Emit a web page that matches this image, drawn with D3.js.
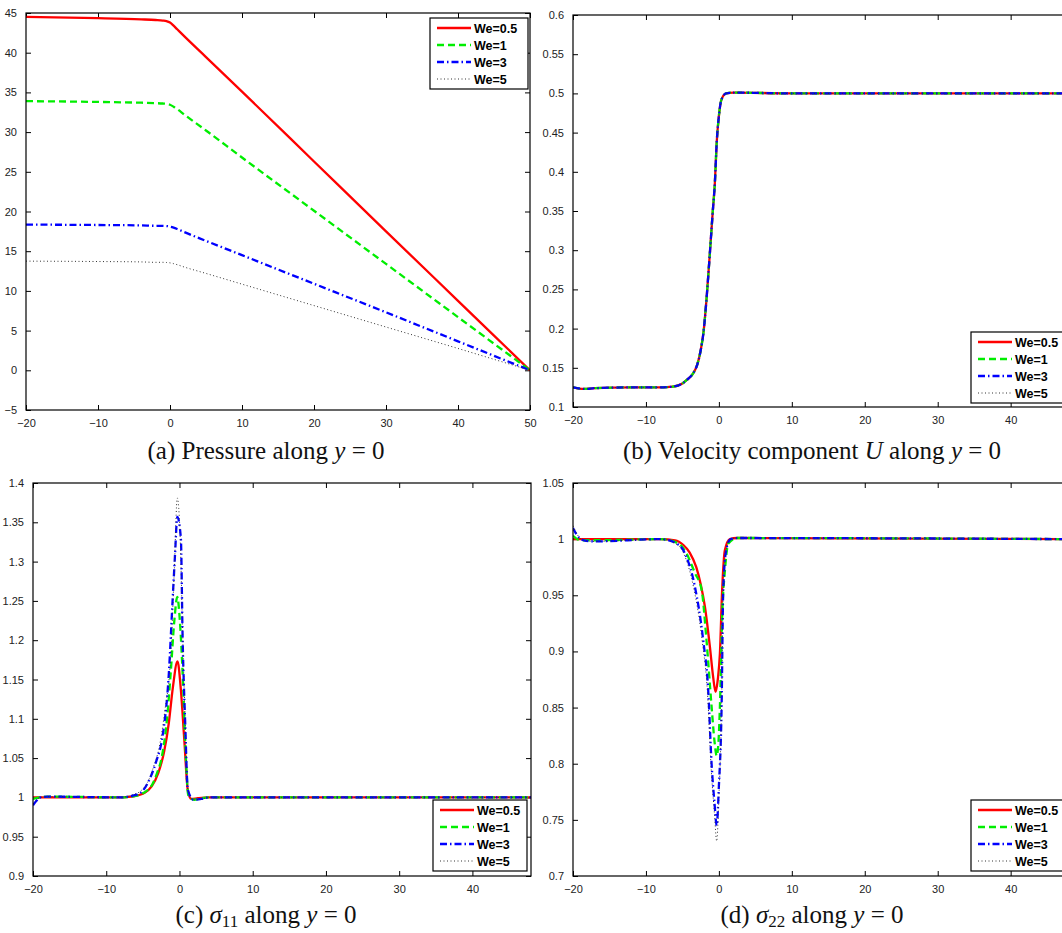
<!DOCTYPE html>
<html>
<head>
<meta charset="utf-8">
<script src="https://cdn.jsdelivr.net/npm/d3@7/dist/d3.min.js"></script>
<style>
  body { margin: 0; background: #fff; }
  svg { display: block; }
  .tick-label { font-family: "Liberation Sans", Arial, sans-serif; font-size: 11px; fill: #222; }
  .legend-label { font-family: "Liberation Sans", Arial, sans-serif; font-size: 12.5px; font-weight: bold; fill: #000; }
  .caption { font-family: "Liberation Serif", "Times New Roman", serif; font-size: 25px; fill: #111; }
</style>
</head>
<body>
<div id="chart"></div>
<script>
// series labels / styles keyed by Weissenberg number
const weLabels = ["We=0.5", "We=1", "We=3", "We=5"];

// (a) pressure along y = 0, [x, p]
const pressure05 = [[-20, 44.5], [-10, 44.35], [-4, 44.2], [-2, 44.12], [-1, 44.05], [-0.5, 43.98], [0, 43.8], [0.5, 43.4], [1, 42.95], [2, 42.05], [5, 39.45], [10, 35.1], [20, 26.3], [30, 17.5], [40, 8.75], [50, 0]];
const pressure1 = [[-20, 33.9], [-10, 33.8], [-4, 33.7], [-2, 33.65], [-1, 33.6], [-0.5, 33.56], [0, 33.45], [0.5, 33.2], [1, 32.9], [2, 32.2], [5, 30.2], [10, 26.8], [20, 20.1], [30, 13.4], [40, 6.7], [50, 0]];
const pressure3 = [[-20, 18.35], [-10, 18.3], [-4, 18.25], [-2, 18.2], [-1, 18.2], [-0.5, 18.17], [0, 18.1], [0.5, 17.97], [1, 17.8], [2, 17.4], [5, 16.3], [10, 14.5], [20, 10.9], [30, 7.3], [40, 3.65], [50, 0]];
const pressure5 = [[-20, 13.75], [-10, 13.7], [-4, 13.65], [-2, 13.6], [-1, 13.6], [-0.5, 13.58], [0, 13.53], [0.5, 13.43], [1, 13.3], [2, 13.0], [5, 12.2], [10, 10.85], [20, 8.15], [30, 5.45], [40, 2.75], [50, 0]];

// (b) velocity component U along y = 0 (all four curves coincide)
const velocityU = [[-20, 0.125], [-18.5, 0.123], [-17, 0.124], [-12, 0.125], [-8, 0.125], [-6.3, 0.126], [-5, 0.13], [-4.4, 0.1345], [-3.6, 0.142], [-3.0, 0.153], [-2.5, 0.172], [-2.1, 0.196], [-1.7, 0.237], [-1.2, 0.301], [-0.85, 0.348], [-0.55, 0.386], [-0.3, 0.437], [0, 0.471], [0.35, 0.492], [1.0, 0.5], [2, 0.501], [10, 0.5], [30, 0.5], [48, 0.5]];

// (c) sigma_11 along y = 0
const sigma11_05 = [[-20, 1.0], [-15, 1.0], [-8, 1.0], [-6.6, 1.001], [-4.75, 1.006], [-3.8, 1.014], [-2.9, 1.031], [-2.1, 1.058], [-1.45, 1.095], [-0.9, 1.14], [-0.27, 1.173], [0.19, 1.137], [0.66, 1.073], [1.14, 1.009], [1.6, 0.998], [2.5, 0.999], [4, 1.0], [48, 1.0]];
const sigma11_1 = [[-20, 0.998], [-19, 1.0], [-18, 1.001], [-8, 1.0], [-6, 1.002], [-3.95, 1.013], [-3.1, 1.03], [-2.4, 1.052], [-1.7, 1.1], [-1.2, 1.158], [-0.7, 1.225], [-0.3, 1.255], [0.05, 1.225], [0.43, 1.158], [0.87, 1.052], [1.2, 1.003], [2, 0.997], [3, 0.999], [4, 1.0], [48, 1.0]];
const sigma11_3 = [[-20, 0.99], [-19.5, 0.996], [-19, 1.0], [-18, 1.001], [-8, 1.0], [-6.5, 1.002], [-5.3, 1.006], [-3.95, 1.026], [-3.1, 1.048], [-2.4, 1.073], [-1.45, 1.158], [-0.98, 1.243], [-0.6, 1.31], [-0.3, 1.357], [0.19, 1.33], [0.43, 1.203], [0.78, 1.095], [1.14, 1.01], [1.9, 0.997], [3, 0.998], [4, 1.0], [48, 1.0]];
const sigma11_5 = [[-20, 0.992], [-19.5, 0.997], [-19, 1.0], [-18, 1.001], [-8, 1.0], [-6.5, 1.003], [-5.2, 1.009], [-4.3, 1.02], [-3.5, 1.04], [-2.76, 1.064], [-2.0, 1.11], [-1.2, 1.18], [-0.7, 1.29], [-0.3, 1.381], [0.1, 1.33], [0.43, 1.21], [0.8, 1.09], [1.15, 1.01], [1.9, 0.997], [3, 0.998], [4, 1.0], [48, 1.0]];

// (d) sigma_22 along y = 0
const sigma22_05 = [[-20, 1.0], [-15, 1.0], [-8, 1.0], [-6, 0.999], [-4.9, 0.995], [-4, 0.988], [-3.1, 0.975], [-2.5, 0.96], [-1.92, 0.94], [-1.23, 0.904], [-0.8, 0.878], [-0.46, 0.864], [-0.15, 0.875], [0.14, 0.898], [0.45, 0.955], [0.82, 0.99], [1.5, 1.0], [2.5, 1.001], [48, 1.0]];
const sigma22_1 = [[-20, 1.003], [-19, 0.999], [-17, 0.999], [-8, 1.0], [-5.5, 0.996], [-4.5, 0.988], [-3.3, 0.97], [-2.37, 0.955], [-1.7, 0.91], [-1.0, 0.851], [-0.6, 0.82], [-0.3, 0.807], [-0.05, 0.82], [0.14, 0.851], [0.5, 0.94], [0.8, 0.97], [1.3, 0.996], [2.5, 1.001], [48, 1.0]];
const sigma22_3 = [[-20, 1.01], [-19.5, 1.004], [-18.5, 0.999], [-17, 0.998], [-8, 1.0], [-5.5, 0.995], [-4.5, 0.985], [-3.3, 0.958], [-2.15, 0.91], [-1.47, 0.866], [-1.0, 0.8], [-0.6, 0.765], [-0.3, 0.745], [0.0, 0.78], [0.37, 0.85], [0.6, 0.955], [1.0, 0.99], [1.6, 1.0], [2.5, 1.001], [48, 1.0]];
const sigma22_5 = [[-20, 1.012], [-19.5, 1.005], [-18.5, 0.999], [-17, 0.998], [-8, 1.0], [-5.5, 0.994], [-4.5, 0.982], [-3.5, 0.958], [-2.3, 0.91], [-1.55, 0.862], [-1.05, 0.795], [-0.6, 0.755], [-0.3, 0.731], [0.0, 0.77], [0.35, 0.845], [0.6, 0.95], [1.0, 0.99], [1.6, 1.0], [2.5, 1.001], [48, 1.0]];

// MATLAB-ish line specs: '-r', '--g', '-.b', ':k'
const lineStyles = [
  { color: "#ff0000", width: 2.3, dash: null },
  { color: "#00ee00", width: 2.3, dash: "7,4" },
  { color: "#0000ff", width: 2.3, dash: "7,3,1.5,3" },
  { color: "#333", width: 1, dash: "1,2.5" }
];

const panels = [
  { left: 26, right: 530, top: 13, bottom: 410, x: [-20, 50], y: [-5, 45], yStep: 5,
    series: [pressure05, pressure1, pressure3, pressure5], legend: [430, 18, 98],
    cap: [266, 459], capText: [["(a) Pressure along "], ["y", "i"], [" = 0"]] },
  { left: 573, right: 1069, top: 15, bottom: 407, x: [-20, 48], y: [0.1, 0.6], yStep: 0.05,
    series: [velocityU, velocityU, velocityU, velocityU], legend: [971, 332, 98],
    cap: [812, 459], capText: [["(b) Velocity component "], ["U", "i"], [" along "], ["y", "i"], [" = 0"]] },
  { left: 33, right: 531, top: 483, bottom: 876, x: [-20, 48], y: [0.9, 1.4], yStep: 0.05,
    series: [sigma11_05, sigma11_1, sigma11_3, sigma11_5], legend: [433, 800, 94],
    cap: [266, 923], capText: [["(c) "], ["σ", "i"], ["11", "s"], [" along "], ["y", "i"], [" = 0"]] },
  { left: 573, right: 1069, top: 483, bottom: 876, x: [-20, 48], y: [0.7, 1.05], yStep: 0.05,
    series: [sigma22_05, sigma22_1, sigma22_3, sigma22_5], legend: [971, 800, 98],
    cap: [812, 923], capText: [["(d) "], ["σ", "i"], ["22", "s"], [" along "], ["y", "i"], [" = 0"]] }
];

const svg = d3.select("#chart").append("svg")
  .attr("width", 1062)
  .attr("height", 933);

const fmt = d3.format("~g");

panels.forEach((p) => {
  const x = d3.scaleLinear().domain(p.x).range([p.left, p.right]);
  const y = d3.scaleLinear().domain(p.y).range([p.bottom, p.top]);
  const g = svg.append("g");

  const xTicks = d3.range(p.x[0], p.x[1] + 0.001, 10);
  const yTicks = d3.range(0, Math.round((p.y[1] - p.y[0]) / p.yStep) + 1).map((i) => +(p.y[0] + i * p.yStep).toFixed(3));

  // inward ticks on all four sides, MATLAB box style
  const tickLen = 5;
  const axisStyle = (sel) => {
    sel.select(".domain").remove();
    sel.selectAll(".tick line").attr("stroke", "#000").attr("stroke-width", 1);
    sel.selectAll(".tick text").attr("class", "tick-label").attr("fill", null);
  };

  g.append("g").attr("transform", `translate(0,${p.bottom})`)
    .call(d3.axisBottom(x).tickValues(xTicks).tickSize(-tickLen).tickPadding(9).tickFormat(fmt))
    .call(axisStyle);
  g.append("g").attr("transform", `translate(0,${p.top})`)
    .call(d3.axisTop(x).tickValues(xTicks).tickSize(-tickLen).tickFormat(""))
    .call(axisStyle);
  g.append("g").attr("transform", `translate(${p.left},0)`)
    .call(d3.axisLeft(y).tickValues(yTicks).tickSize(-tickLen).tickPadding(9).tickFormat(fmt))
    .call(axisStyle);
  g.append("g").attr("transform", `translate(${p.right},0)`)
    .call(d3.axisRight(y).tickValues(yTicks).tickSize(-tickLen).tickFormat(""))
    .call(axisStyle);

  g.selectAll(".tick text").attr("font-family", null).attr("font-size", null);

  const clipId = "clip" + p.left + "_" + p.top;
  g.append("clipPath").attr("id", clipId)
    .append("rect")
    .attr("x", p.left).attr("y", p.top - 2)
    .attr("width", p.right - p.left).attr("height", p.bottom - p.top + 4);

  const line = d3.line()
    .x((d) => x(d[0]))
    .y((d) => y(d[1]))
    .curve(d3.curveMonotoneX);

  g.append("g").attr("clip-path", `url(#${clipId})`)
    .selectAll("path")
    .data(p.series)
    .join("path")
    .attr("d", line)
    .attr("fill", "none")
    .attr("stroke", (d, i) => lineStyles[i].color)
    .attr("stroke-width", (d, i) => lineStyles[i].width)
    .attr("stroke-dasharray", (d, i) => lineStyles[i].dash);

  // box
  g.append("rect")
    .attr("x", p.left).attr("y", p.top)
    .attr("width", p.right - p.left).attr("height", p.bottom - p.top)
    .attr("fill", "none").attr("stroke", "#000").attr("stroke-width", 1.2);

  // legend
  const [lx, ly, lw] = p.legend;
  const leg = g.append("g").attr("transform", `translate(${lx},${ly})`);
  leg.append("rect")
    .attr("width", lw).attr("height", 71)
    .attr("fill", "#fff").attr("stroke", "#000").attr("stroke-width", 1.2);
  const rows = leg.selectAll("g.row")
    .data(weLabels)
    .join("g")
    .attr("class", "row")
    .attr("transform", (d, i) => `translate(0,${10 + i * 17})`);
  rows.append("line")
    .attr("x1", 7).attr("x2", 41)
    .attr("stroke", (d, i) => lineStyles[i].color)
    .attr("stroke-width", (d, i) => lineStyles[i].width)
    .attr("stroke-dasharray", (d, i) => lineStyles[i].dash);
  rows.append("text")
    .attr("class", "legend-label")
    .attr("x", 44).attr("dy", "0.36em")
    .text((d) => d);

  // caption
  const cap = svg.append("text")
    .attr("class", "caption")
    .attr("x", p.cap[0]).attr("y", p.cap[1])
    .attr("text-anchor", "middle");
  p.capText.forEach((part) => {
    const t = cap.append("tspan").text(part[0]);
    if (part[1] === "i") t.attr("font-style", "italic");
    if (part[1] === "s") t.attr("font-size", "17px").attr("baseline-shift", "-4");
  });
});
</script>
</body>
</html>
